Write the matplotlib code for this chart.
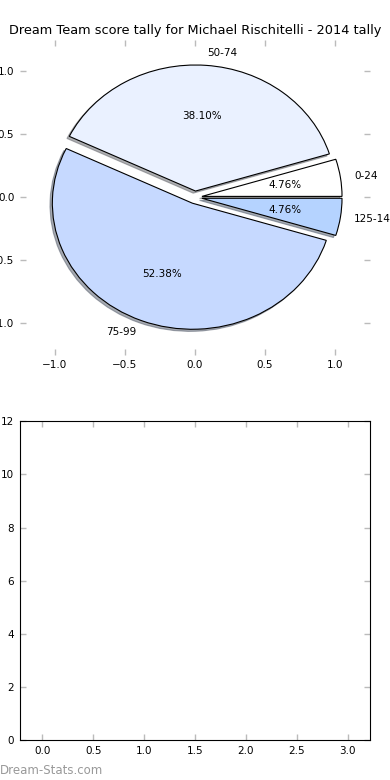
import matplotlib
matplotlib.use("Agg")
import matplotlib.pyplot as plt

# Data
labels = ['0-24', '50-74', '75-99', '125-149']
counts = [1, 8, 11, 1]
colors = ['#ffffff', '#eaf1ff', '#c6d9ff', '#b5d3ff']
explode = [0.05, 0.05, 0.05, 0.05]

bar_xlim = (-0.22, 3.22)
bar_ylim = (0, 12)

plt.rcParams['font.family'] = 'DejaVu Sans'
fig = plt.figure(figsize=(3.9, 7.8), dpi=100)

# Pie chart (old-style: not forced circular, ticks kept)
ax1 = fig.add_axes([0.051, 0.545, 0.898, 0.404])
wedges, texts, autotexts = ax1.pie(
    counts, labels=labels, colors=colors, explode=explode,
    autopct='%.2f%%', shadow={'ox': -0.012, 'oy': -0.012, 'shade': 0.6},
    wedgeprops={'edgecolor': 'black', 'linewidth': 0.8},
    textprops={'fontsize': 7.5},
)
ax1.set_aspect('auto')
ax1.set_xlim(-1.25, 1.25)
ax1.set_ylim(-1.25, 1.25)
ax1.set_xticks([-1.0, -0.5, 0.0, 0.5, 1.0])
ax1.set_yticks([-1.0, -0.5, 0.0, 0.5, 1.0])
ax1.set_frame_on(False)
ax1.set_title('Dream Team score tally for Michael Rischitelli - 2014 tally',
              fontsize=9.3, pad=4)

# Empty lower axes
ax2 = fig.add_axes([0.051, 0.051, 0.898, 0.409])
ax2.set_xlim(*bar_xlim)
ax2.set_ylim(*bar_ylim)
ax2.set_xticks([0.0, 0.5, 1.0, 1.5, 2.0, 2.5, 3.0])
ax2.set_yticks([0, 2, 4, 6, 8, 10, 12])

for ax in (ax1, ax2):
    ax.tick_params(direction='in', length=4, width=1, color='#bbbbbb',
                   labelsize=7.5, top=True, right=True, pad=4)

fig.text(0.0, 0.004, 'Dream-Stats.com', color='#999999', fontsize=8.5,
         ha='left', va='bottom')

fig.savefig('out.png', dpi=100)
